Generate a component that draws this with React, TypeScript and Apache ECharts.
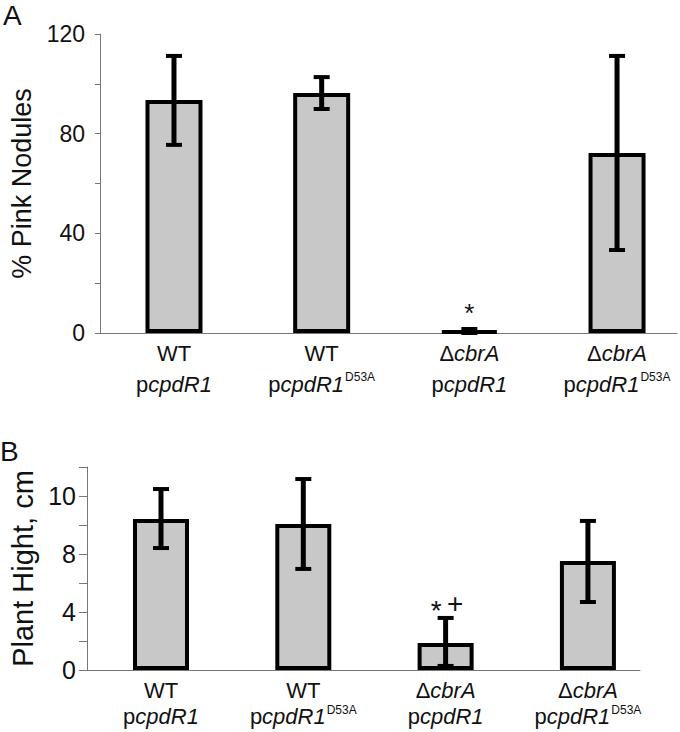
import React, { useEffect, useRef } from "react";
import * as echarts from "echarts";

// ---- Data ----
const CATEGORY_STRAIN = ["WT", "WT", "ΔcbrA", "ΔcbrA"];
const CATEGORY_PLASMID = ["pcpdR1", "pcpdR1", "pcpdR1", "pcpdR1"];
const CATEGORY_ALLELE = ["", "D53A", "", "D53A"];
const CATEGORY_INDEX = [0, 1, 2, 3];

const NODULE_MEAN = [93.5, 96.3, 0.8, 72.2];
const NODULE_LOW = [75.5, 89.9, 0, 33.3];
const NODULE_HIGH = [111.2, 102.7, 1.6, 111.2];
const NODULE_MARKS = [[], [], ["*"], []];
const NODULE_TICK_VALUES = [0, 40, 80, 120];

const HEIGHT_MEAN = [10.41, 10.07, 1.86, 7.52];
const HEIGHT_LOW = [8.41, 6.97, 0.28, 4.69];
const HEIGHT_HIGH = [12.48, 13.17, 3.59, 10.28];
const HEIGHT_MARKS = [[], [], ["*", "+"], []];
const HEIGHT_TICK_VALUES = [0, 4, 8, 12];
const HEIGHT_TICK_LABELS = ["0", "4", "8", "10"];

const FONT = '"Liberation Sans", Arial, Helvetica, sans-serif';
const INK = "#111";
const AXIS = "#777";

function categoryLabel(v: number) {
  const i = Math.round(v);
  if (Math.abs(v - i) > 1e-6 || i < 0 || i >= CATEGORY_STRAIN.length) return "";
  const s = CATEGORY_STRAIN[i];
  const line1 = s.startsWith("Δ") ? `{u|Δ}{i|${s.slice(1)}}` : `{u|${s}}`;
  const p = CATEGORY_PLASMID[i];
  const a = CATEGORY_ALLELE[i];
  const line2 = `{u|${p.slice(0, 1)}}{i|${p.slice(1)}}` + (a ? `{s|${a}}` : "");
  return line1 + "\n" + line2;
}

function richFor(lineHeight: number, supPad: number) {
  return {
    u: { fontSize: 22, fontFamily: FONT, color: INK, lineHeight },
    i: { fontSize: 22, fontFamily: FONT, color: INK, fontStyle: "italic", lineHeight },
    s: { fontSize: 12, fontFamily: FONT, color: INK, verticalAlign: "top", padding: [supPad, 0, 0, 1] },
  };
}

function makeErrorRender(marks: string[][], markOffset: number, markFont: number) {
  return (params: any, api: any) => {
    const x = api.value(0);
    const lo = api.value(1);
    const hi = api.value(2);
    const pTop = api.coord([x, hi]);
    const pBot = api.coord([x, lo]);
    const cx = pTop[0];
    const half = 8;
    const children: any[] = [
      { type: "line", shape: { x1: cx, y1: pTop[1], x2: cx, y2: pBot[1] }, style: { stroke: "#000", lineWidth: 5 } },
      { type: "line", shape: { x1: cx - half, y1: pTop[1], x2: cx + half, y2: pTop[1] }, style: { stroke: "#000", lineWidth: 4 } },
      { type: "line", shape: { x1: cx - half, y1: pBot[1], x2: cx + half, y2: pBot[1] }, style: { stroke: "#000", lineWidth: 4 } },
    ];
    const toks = marks[params.dataIndex] || [];
    toks.forEach((t, k) => {
      const dx = (k - (toks.length - 1) / 2) * 19;
      children.push({
        type: "text",
        x: cx + dx,
        y: pTop[1] - markOffset + (t === "*" ? 0.22 * markFont : 0),
        style: { text: t, fontSize: markFont, fontFamily: FONT, fill: INK, align: "center", verticalAlign: "middle" },
      });
    });
    return { type: "group", children };
  };
}

export default function App() {
  const ref = useRef<HTMLDivElement>(null);
  useEffect(() => {
    if (!ref.current) return;
    const chart = echarts.init(ref.current, null, { renderer: "svg" });
    const barStyle = { color: "#c8c8c8", borderColor: "#000", borderWidth: 4 };
    chart.setOption({
      animation: false,
      backgroundColor: "#fff",
      graphic: [
        { type: "text", left: 3, top: 1, style: { text: "A", fontSize: 28, fontFamily: FONT, fill: INK } },
        { type: "text", left: 0, top: 437, style: { text: "B", fontSize: 28, fontFamily: FONT, fill: INK } },
      ],
      grid: [
        { left: 100, top: 34, width: 577, height: 299 },
        { left: 87, top: 467, width: 553, height: 203 },
      ],
      xAxis: [
        {
          gridIndex: 0, type: "value", min: -0.501, max: 3.406,
          axisLine: { show: true, onZero: false, lineStyle: { color: AXIS, width: 1 } },
          axisTick: { show: false }, splitLine: { show: false },
          axisLabel: { customValues: CATEGORY_INDEX, formatter: categoryLabel, margin: 5, rich: richFor(31, 2) },
        },
        {
          gridIndex: 1, type: "value", min: -0.52, max: 3.366,
          axisLine: { show: true, onZero: false, lineStyle: { color: AXIS, width: 1 } },
          axisTick: { show: false }, splitLine: { show: false },
          axisLabel: { customValues: CATEGORY_INDEX, formatter: categoryLabel, margin: 7, rich: richFor(26, 1) },
        },
      ],
      yAxis: [
        {
          gridIndex: 0, type: "value", min: 0, max: 120, interval: 20,
          axisLine: { show: true, onZero: false, lineStyle: { color: AXIS, width: 1 } },
          axisTick: { show: true, length: 5, lineStyle: { color: AXIS } },
          splitLine: { show: false },
          axisLabel: {
            customValues: NODULE_TICK_VALUES,
            formatter: (v: number) => (NODULE_TICK_VALUES.includes(v) ? String(v) : ""),
            fontSize: 23, fontFamily: FONT, color: INK, margin: 15,
          },
          name: "% Pink Nodules", nameLocation: "middle", nameRotate: 90, nameGap: 62,
          nameTextStyle: { fontSize: 27, fontFamily: FONT, color: INK },
        },
        {
          gridIndex: 1, type: "value", min: 0, max: 14, interval: 2,
          axisLine: { show: true, onZero: false, lineStyle: { color: AXIS, width: 1 } },
          axisTick: { show: true, length: 8, lineStyle: { color: AXIS } },
          splitLine: { show: false },
          axisLabel: {
            customValues: HEIGHT_TICK_VALUES,
            formatter: (v: number) => {
              const k = HEIGHT_TICK_VALUES.indexOf(v);
              return k >= 0 ? HEIGHT_TICK_LABELS[k] : "";
            },
            fontSize: 25, fontFamily: FONT, color: INK, margin: 11,
          },
          name: "Plant Hight, cm", nameLocation: "middle", nameRotate: 90, nameGap: 46,
          nameTextStyle: { fontSize: 29, fontFamily: FONT, color: INK },
        },
      ],
      series: [
        {
          type: "bar", xAxisIndex: 0, yAxisIndex: 0, barWidth: 57,
          data: NODULE_MEAN.map((v, i) => [CATEGORY_INDEX[i], v]),
          itemStyle: barStyle,
        },
        {
          type: "custom", xAxisIndex: 0, yAxisIndex: 0,
          renderItem: makeErrorRender(NODULE_MARKS, 22, 26),
          data: NODULE_LOW.map((lo, i) => [CATEGORY_INDEX[i], lo, NODULE_HIGH[i]]),
          encode: { x: 0, y: [1, 2] },
          z: 5,
        },
        {
          type: "bar", xAxisIndex: 1, yAxisIndex: 1, barWidth: 56,
          data: HEIGHT_MEAN.map((v, i) => [CATEGORY_INDEX[i], v]),
          itemStyle: barStyle,
        },
        {
          type: "custom", xAxisIndex: 1, yAxisIndex: 1,
          renderItem: makeErrorRender(HEIGHT_MARKS, 14, 28),
          data: HEIGHT_LOW.map((lo, i) => [CATEGORY_INDEX[i], lo, HEIGHT_HIGH[i]]),
          encode: { x: 0, y: [1, 2] },
          z: 5,
        },
      ],
    });
    return () => chart.dispose();
  }, []);
  return (
    <div
      ref={ref}
      style={{ position: "absolute", left: 0, top: 0, width: 680, height: 732, background: "#fff" }}
    />
  );
}
